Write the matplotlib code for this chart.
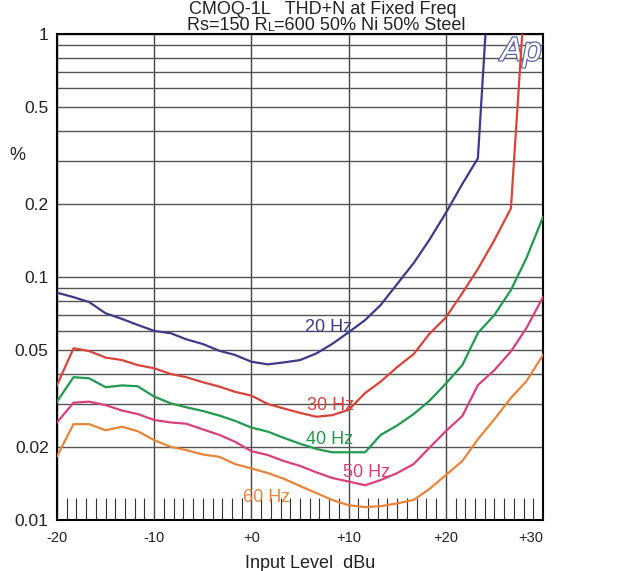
import matplotlib
matplotlib.use("Agg")
import matplotlib.pyplot as plt
import matplotlib.patheffects as pe
from matplotlib.ticker import FixedLocator, NullFormatter

plt.rcParams['font.family'] = ['Liberation Sans', 'DejaVu Sans']

# input level, dBu
levels = [-20, -18.3, -16.7, -15, -13.3, -11.7, -10, -8.3, -6.7, -5, -3.3,
          -1.7, 0, 1.7, 3.3, 5, 6.7, 8.3, 10, 11.7, 13.3, 15, 16.7, 18.3,
          20, 21.7, 23.3, 25, 26.7, 28.3, 30]

# THD+N in %
thd_20hz = [0.0862, 0.0826, 0.0789, 0.0709, 0.0672, 0.0635, 0.0600, 0.0587,
            0.0554, 0.0530, 0.0497, 0.0478, 0.0448, 0.0437, 0.0445, 0.0455,
            0.0485, 0.0530, 0.0592, 0.0665, 0.0767, 0.0936, 0.1142, 0.142,
            0.1834, 0.2414, 0.308, 4.0]
thd_30hz = [0.0359, 0.0509, 0.0496, 0.0466, 0.0455, 0.0434, 0.0421, 0.0399,
            0.0387, 0.0369, 0.0354, 0.0337, 0.0325, 0.0300, 0.0288, 0.0276,
            0.0266, 0.0270, 0.0284, 0.0333, 0.0371, 0.0426, 0.0482, 0.0583,
            0.0681, 0.0859, 0.1079, 0.142, 0.1917, 1.86]
thd_40hz = [0.0307, 0.0387, 0.0383, 0.0352, 0.0358, 0.0355, 0.0322, 0.0302,
            0.0291, 0.0281, 0.0269, 0.0256, 0.0240, 0.0231, 0.0218, 0.0206,
            0.0196, 0.0190, 0.0190, 0.0190, 0.0224, 0.0245, 0.0273, 0.0309,
            0.0364, 0.0434, 0.0588, 0.0698, 0.0884, 0.1197, 0.1766]
thd_50hz = [0.0252, 0.0304, 0.0307, 0.0297, 0.0282, 0.0273, 0.0258, 0.0252,
            0.0249, 0.0236, 0.0224, 0.0210, 0.0192, 0.0185, 0.0175, 0.0167,
            0.0157, 0.0149, 0.0144, 0.0139, 0.0146, 0.0156, 0.0170, 0.0198,
            0.0232, 0.0268, 0.0359, 0.0414, 0.0494, 0.0617, 0.0827]
thd_60hz = [0.0183, 0.0248, 0.0248, 0.0234, 0.0242, 0.0232, 0.0213, 0.0200,
            0.0194, 0.0186, 0.0182, 0.0170, 0.0163, 0.0156, 0.0148, 0.0138,
            0.0129, 0.0121, 0.0115, 0.0113, 0.0114, 0.0117, 0.0121, 0.0134,
            0.0153, 0.0175, 0.0215, 0.0260, 0.0318, 0.0373, 0.0478]

curves = [
    ("20 Hz", thd_20hz, "#3d3a8a", (7.9, 0.0620)),
    ("30 Hz", thd_30hz, "#d9443a", (8.1, 0.0295)),
    ("40 Hz", thd_40hz, "#1f9a4e", (8.0, 0.0215)),
    ("50 Hz", thd_50hz, "#d8407e", (11.8, 0.0157)),
    ("60 Hz", thd_60hz, "#e8853a", (1.6, 0.0124)),
]

y_major = [0.01, 0.02, 0.05, 0.1, 0.2, 0.5, 1]
y_major_labels = ["0.01", "0.02", "0.05", "0.1", "0.2", "0.5", "1"]
y_minor = [0.03, 0.04, 0.06, 0.07, 0.08, 0.09, 0.3, 0.4, 0.6, 0.7, 0.8, 0.9]
x_major = [-20, -10, 0, 10, 20, 30]
x_major_labels = ["-20", "-10", "+0", "+10", "+20", "+30"]

fig = plt.figure(figsize=(6.21, 5.71), dpi=100)
ax = fig.add_axes([57 / 621, 1 - 520 / 571, 486 / 621, 486 / 571])

ax.set_yscale("log")
ax.set_ylim(0.01, 1)
ax.set_xlim(-20, 30)

ax.yaxis.set_major_locator(FixedLocator(y_major))
ax.set_yticklabels(y_major_labels)
ax.yaxis.set_minor_locator(FixedLocator(y_minor))
ax.yaxis.set_minor_formatter(NullFormatter())
ax.tick_params(axis="y", which="both", length=0, pad=6, labelsize=12.5,
               labelcolor="#222222")

ax.set_xticks(x_major)
ax.set_xticklabels(x_major_labels)
ax.set_xticks([v for v in range(-19, 30) if v % 10 != 0], minor=True)
ax.tick_params(axis="x", which="major", length=0, pad=8, labelsize=10.5,
               labelcolor="#222222")
ax.tick_params(axis="x", which="minor", direction="in", length=16,
               width=0.8, color="#333333")
ax.get_xticklabels()[-1].set_ha("right")
ax.get_xticklabels()[-1].set_x(30.6)

ax.grid(True, axis="y", which="both", color="#555555", linewidth=1.0)
ax.grid(True, axis="x", which="major", color="#444444", linewidth=1.0)
ax.set_axisbelow(True)
for s in ax.spines.values():
    s.set_linewidth(1.5)
    s.set_color("black")

for name, vals, col, pos in curves:
    ax.plot(levels[:len(vals)], vals, color=col, linewidth=1.6, zorder=3)
    ax.text(pos[0], pos[1], name, color=col, fontsize=13, ha="center",
            va="center", zorder=4)

# Ap logo
ax.text(0.955, 0.963, "Ap", transform=ax.transAxes, fontsize=24,
        style="italic", color="white", ha="center", va="center", zorder=2,
        path_effects=[pe.withStroke(linewidth=1.8, foreground="#5b6aa8")])

# titles
fig.text(323 / 621, 1 - 14 / 571, "CMOQ-1L   THD+N at Fixed Freq",
         fontsize=13, ha="center", va="baseline", color="#222222")
t1 = fig.text(187 / 621, 1 - 30 / 571, "Rs=150 R", fontsize=13,
              ha="left", va="baseline", color="#222222")
t2 = plt.annotate("L", xy=(1, 0), xycoords=t1, fontsize=9, ha="left",
                  va="bottom", color="#222222", annotation_clip=False)
t3 = plt.annotate("=600 50% Ni 50% Steel", xy=(1, 0), xycoords=t2,
                  fontsize=13, ha="left", va="bottom", color="#222222",
                  annotation_clip=False)

fig.text(17 / 621, 1 - 155 / 571, "%", fontsize=13, ha="center",
         va="center", color="#222222")
fig.text(310 / 621, 1 - 563 / 571, "Input Level  dBu", fontsize=13,
         ha="center", va="center", color="#222222")

fig.savefig("out.png", dpi=100, facecolor="white")
